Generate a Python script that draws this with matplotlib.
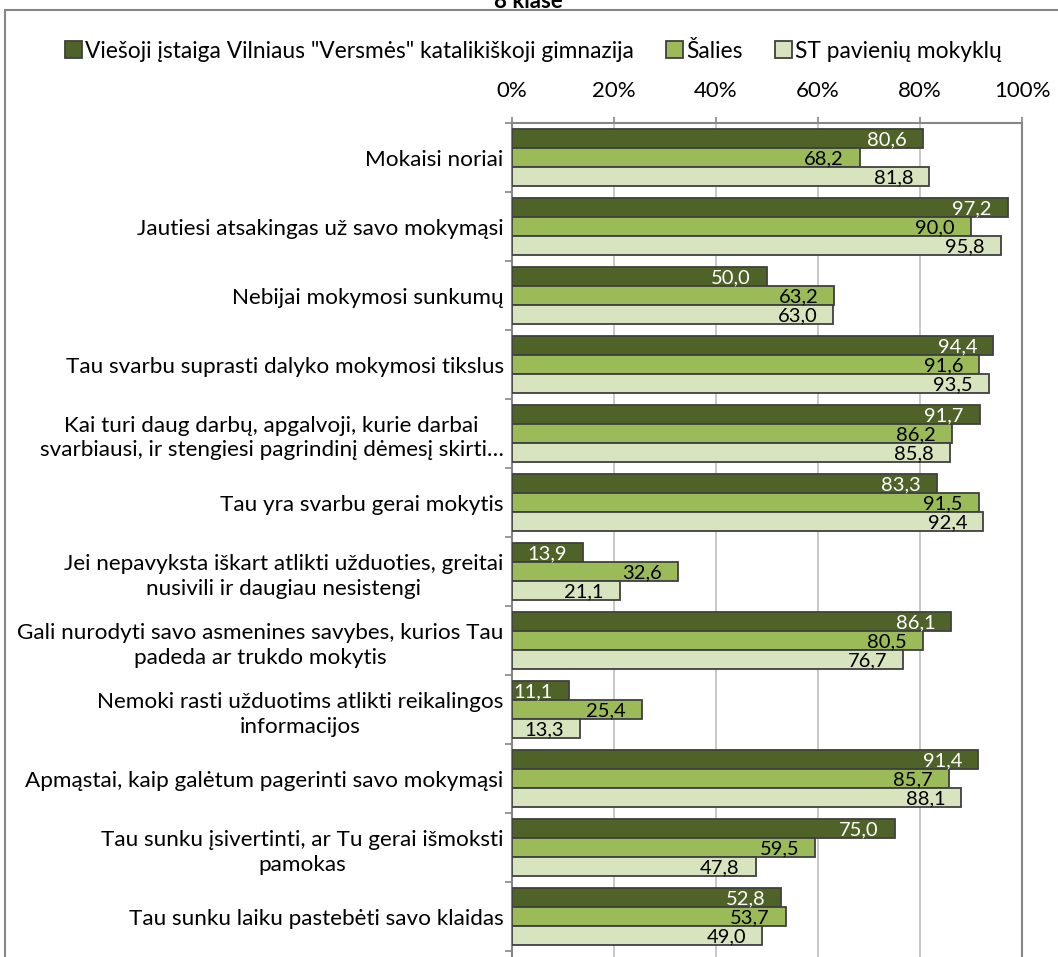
import matplotlib.pyplot as plt
import numpy as np
from matplotlib.patches import Rectangle

plt.rcParams['font.family'] = ['Lato', 'DejaVu Sans']

kategorijos = [
    'Mokaisi noriai',
    'Jautiesi atsakingas už savo mokymąsi',
    'Nebijai mokymosi sunkumų',
    'Tau svarbu suprasti dalyko mokymosi tikslus',
    'Kai turi daug darbų, apgalvoji, kurie darbai\nsvarbiausi, ir stengiesi pagrindinį dėmesį skirti…',
    'Tau yra svarbu gerai mokytis',
    'Jei nepavyksta iškart atlikti užduoties, greitai\nnusivili ir daugiau nesistengi',
    'Gali nurodyti savo asmenines savybes, kurios Tau\npadeda ar trukdo mokytis',
    'Nemoki rasti užduotims atlikti reikalingos\ninformacijos',
    'Apmąstai, kaip galėtum pagerinti savo mokymąsi',
    'Tau sunku įsivertinti, ar Tu gerai išmoksti\npamokas',
    'Tau sunku laiku pastebėti savo klaidas',
]
serijos = ['Viešoji įstaiga Vilniaus "Versmės" katalikiškoji gimnazija', 'Šalies', 'ST pavienių mokyklų']
gimnazija = [80.6, 97.2, 50.0, 94.4, 91.7, 83.3, 13.9, 86.1, 11.1, 91.4, 75.0, 52.8]
salies = [68.2, 90.0, 63.2, 91.6, 86.2, 91.5, 32.6, 80.5, 25.4, 85.7, 59.5, 53.7]
st_mokyklu = [81.8, 95.8, 63.0, 93.5, 85.8, 92.4, 21.1, 76.7, 13.3, 88.1, 47.8, 49.0]
x_ticks = [0, 20, 40, 60, 80, 100]

spalvos = ['#4F6228', '#9BBB59', '#D7E4BD']
teksto_spalvos = ['white', 'black', 'black']

fig = plt.figure(figsize=(10.58, 9.57), dpi=100)
ax = fig.add_axes([512 / 1058, 0.0, 510 / 1058, 1 - 123 / 957])

y = np.arange(len(kategorijos))
h = 0.275
for i, (vals, c, tc) in enumerate(zip([gimnazija, salies, st_mokyklu], spalvos, teksto_spalvos)):
    pos = y + (i - 1) * h
    bars = ax.barh(pos, vals, height=h, color=c, edgecolor='#404040', linewidth=1.3,
                   label=serijos[i], zorder=3)
    for b, v in zip(bars, vals):
        ax.annotate(f'{v:.1f}'.replace('.', ','), (v, b.get_y() + h / 2),
                    xytext=(-11.5, -1), textcoords='offset points',
                    ha='right', va='center', color=tc, fontsize=14.5, zorder=4)

# slots are slightly shifted up, like in the original
ax.set_xlim(0, 100)
ax.set_ylim(len(kategorijos) - 0.5 + 0.08, -0.5 + 0.08)
ax.set_xticks(x_ticks)
ax.set_xticklabels([f'{t}%' for t in x_ticks], fontsize=16)
ax.xaxis.tick_top()
ax.tick_params(axis='x', direction='out', length=4, width=1.2, color='#868686', pad=12)
ax.grid(axis='x', color='#BFBFBF', linewidth=1.2, zorder=0)

ax.set_yticks(y)
ax.set_yticklabels(kategorijos, fontsize=16.2, ha='right', multialignment='center',
                   linespacing=1.3)
ax.tick_params(axis='y', length=0, pad=6)
ax.set_yticks(np.arange(len(kategorijos) + 1) - 0.5, minor=True)
ax.tick_params(axis='y', which='minor', direction='out', length=5, width=1.2, color='#868686')

for s in ['top', 'left', 'right']:
    ax.spines[s].set_color('#868686')
    ax.spines[s].set_linewidth(1.5)
ax.spines['bottom'].set_visible(False)

fig.legend(loc='upper left', bbox_to_anchor=(44 / 1058, 1 - 20 / 957), ncol=3,
           frameon=False, fontsize=16.4, handlelength=0.75, handleheight=0.75,
           handletextpad=0.15, columnspacing=1.4)

fig.patches.append(Rectangle((5 / 1058, -0.1), 1.2, 1.1 - 10 / 957, transform=fig.transFigure,
                             fill=False, edgecolor='#868686', linewidth=1.5))
fig.text(528 / 1058, 1 - 2 / 957, '8 klasė', ha='center', va='center', fontsize=16, fontweight='bold')

fig.savefig('out.png', dpi=100)
